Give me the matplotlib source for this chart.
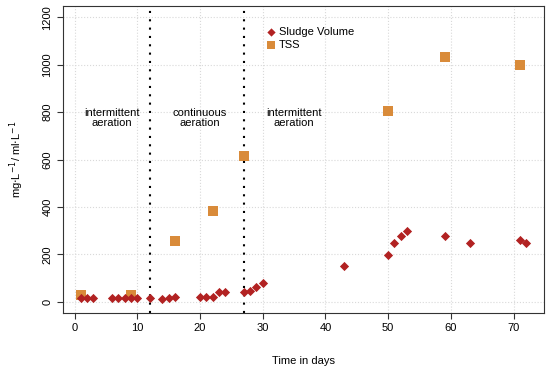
import matplotlib
matplotlib.use("Agg")
import matplotlib.pyplot as plt

plt.rcParams['font.family'] = ['Liberation Sans', 'DejaVu Sans']

sludge_days = [1, 2, 3, 6, 7, 8, 9, 10, 12, 14, 15, 16, 20, 21, 22, 23, 24,
               27, 28, 29, 30, 43, 50, 51, 52, 53, 59, 63, 71, 72]
sludge_vol = [15, 17, 17, 17, 17, 17, 17, 17, 15, 13, 17, 18, 18, 18, 20, 40, 42,
              42, 47, 60, 79, 149, 199, 249, 279, 300, 279, 249, 259, 249]

tss_days = [1, 9, 16, 22, 27, 50, 59, 71]
tss_vals = [30, 30, 255, 382, 613, 806, 1033, 998]

phase_bounds = [12, 27]
phase_labels = ["intermittent\naeration", "continuous\naeration", "intermittent\naeration"]
phase_label_x = [6, 20, 35]

fig = plt.figure(figsize=(5.5, 3.71), dpi=100)
ax = fig.add_axes([0.1145, 0.1563, 0.8745, 0.8275])

ax.set_xlim(-1.84, 74.84)
ax.set_ylim(-48, 1248)
ax.set_xticks(range(0, 71, 10))
ax.set_yticks(range(0, 1201, 200))
ax.grid(True, color='#d9d9d9', linestyle=':', linewidth=0.8)
ax.set_axisbelow(True)

for b in phase_bounds:
    ax.axvline(b, color='black', linestyle=(0, (1, 3)), linewidth=1.5, zorder=2)

ax.scatter(tss_days, tss_vals, marker='s', s=42, color='#D98B3A', label='TSS',
           zorder=3, linewidths=0)
ax.scatter(sludge_days, sludge_vol, marker='D', s=22, color='#B22222',
           label='Sludge Volume', zorder=4, linewidths=0)

for lx, lt in zip(phase_label_x, phase_labels):
    ax.text(lx, 775, lt, ha='center', va='center', fontsize=8, linespacing=0.9)

handles, labels = ax.get_legend_handles_labels()
ax.legend(handles[::-1], labels[::-1], loc='upper left', bbox_to_anchor=(0.41, 0.946),
          frameon=False, fontsize=8, handletextpad=0.1, labelspacing=0.3,
          borderaxespad=0, handlelength=1.2, markerscale=0.9)

ax.tick_params(labelsize=8, length=4, color='#333333')
for lbl in ax.get_yticklabels():
    lbl.set_rotation(90)
    lbl.set_va('center')
for sp in ax.spines.values():
    sp.set_color('#333333')

ax.set_xlabel("Time in days", fontsize=8, labelpad=16)
ax.set_ylabel("mg$\\cdot$L$^{-1}$/ ml$\\cdot$L$^{-1}$", fontsize=8, labelpad=12)

fig.savefig("out.png", dpi=100)
